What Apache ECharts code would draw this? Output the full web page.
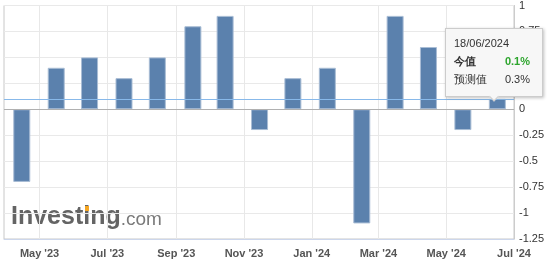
<!DOCTYPE html>
<html>
<head>
<meta charset="utf-8">
<script src="https://cdn.jsdelivr.net/npm/echarts@6/dist/echarts.min.js"></script>
<style>
	html, body { margin: 0; padding: 0; background: #fff; }
	#chart { width: 559px; height: 269px; }
</style>
</head>
<body>
<div id="chart"></div>
<script>
	// release dates and actual values (monthly)
	const releaseDates = ['2023-04-15', '2023-05-16', '2023-06-15', '2023-07-16', '2023-08-15', '2023-09-16', '2023-10-15', '2023-11-15',
		'2023-12-15', '2024-01-15', '2024-02-15', '2024-03-16', '2024-04-15', '2024-05-16', '2024-06-16']
	const actualValues = [-0.7, 0.4, 0.5, 0.3, 0.5, 0.8, 0.9, -0.2, 0.3, 0.4, -1.1, 0.9, 0.6, -0.2, 0.1]
	// x axis labels (month starts)
	const monthTicks = ['2023-05-01', '2023-07-01', '2023-09-01', '2023-11-01', '2024-01-01', '2024-03-01', '2024-05-01', '2024-07-01']
	const monthNames = ['Jan', 'Feb', 'Mar', 'Apr', 'May', 'Jun', 'Jul', 'Aug', 'Sep', 'Oct', 'Nov', 'Dec']
	// tooltip content for the last release
	const tipDate = '18/06/2024'
	const tipActual = 0.1
	const tipForecast = 0.3

	const ts = (d) => Date.parse(d + 'T00:00:00Z')

	const chart = echarts.init(document.getElementById('chart'))

	const option = {
		animation: false,
		textStyle: {
			fontFamily: 'Liberation Sans, Arial, sans-serif'
		},
		grid: {
			left: 4,
			right: 45,
			top: 5,
			bottom: 30,
			show: true,
			borderColor: '#c8c8c8',
			borderWidth: 1
		},
		tooltip: {
			trigger: 'item',
			triggerOn: 'none',
			alwaysShowContent: true,
			position: 'top',
			backgroundColor: '#f7f7f7',
			borderColor: '#cccccc',
			borderWidth: 1,
			padding: [5, 12, 8, 8],
			extraCssText: 'box-shadow: 1px 1px 3px rgba(0,0,0,0.25); border-radius: 0; margin-top: 8px; margin-left: -3px;',
			formatter: function () {
				return '<div style="font:11px Liberation Sans, Arial; color:#333; line-height:18px; width:76px">' +
					'<div>' + tipDate + '</div>' +
					'<div><b>今值</b><span style="float:right;color:#2da52d;font-weight:bold">' + tipActual + '%</span></div>' +
					'<div>预测值<span style="float:right">' + tipForecast + '%</span></div>' +
					'</div>'
			}
		},
		xAxis: {
			type: 'value',
			min: ts('2023-03-30'),
			max: ts('2024-07-01'),
			axisLine: {
				onZero: false,
				lineStyle: { color: '#ccd6eb' }
			},
			axisTick: { show: false, customValues: monthTicks.map(ts) },
			axisLabel: {
				customValues: monthTicks.map(ts),
				margin: 9,
				color: '#555',
				fontSize: 11,
				fontWeight: 'bold',
				formatter: function (v) {
					const d = new Date(v)
					return monthNames[d.getUTCMonth()] + " '" + String(d.getUTCFullYear()).slice(2)
				}
			},
			splitLine: {
				show: true,
				lineStyle: { color: '#e8e8e8' }
			}
		},
		yAxis: {
			type: 'value',
			position: 'right',
			min: -1.25,
			max: 1,
			interval: 0.25,
			axisLine: { show: true, lineStyle: { color: '#cccccc' } },
			axisTick: { show: false },
			axisLabel: {
				margin: 5,
				color: '#333',
				fontSize: 11
			},
			splitLine: {
				lineStyle: { color: '#e9e9e9' }
			}
		},
		series: [
			{
				type: 'bar',
				data: releaseDates.map((d, i) => [ts(d), actualValues[i]]),
				barWidth: 17,
				itemStyle: {
					color: '#5b81ad',
					borderColor: '#a9bdd5',
					borderWidth: 1
				},
				markLine: {
					silent: true,
					symbol: 'none',
					label: { show: false },
					data: [
						{ yAxis: 0, lineStyle: { color: '#b0b0b0', type: 'solid', width: 1 } },
						{ yAxis: tipActual, lineStyle: { color: '#88b9ea', type: 'solid', width: 1 } }
					]
				}
			}
		],
		graphic: [
			{
				type: 'text',
				left: 11,
				top: 205,
				style: {
					text: '{a|Investing}{b|.com}',
					rich: {
						a: { fontSize: 25, fontWeight: 'bold', fill: '#646464', fontFamily: 'Liberation Sans' },
						b: { fontSize: 19, fill: '#7a7a7a', fontFamily: 'Liberation Sans', padding: [5, 0, 0, 0] }
					}
				}
			},
			{
				type: 'rect',
				left: 85,
				top: 206,
				shape: { width: 4, height: 5 },
				style: { fill: '#f5a623' }
			}
		]
	}

	chart.setOption(option)
	setTimeout(() => {
		chart.dispatchAction({ type: 'showTip', seriesIndex: 0, dataIndex: actualValues.length - 1 })
	}, 50)

	window.onresize = () => {
		chart.resize()
	}
</script>
</body>
</html>
